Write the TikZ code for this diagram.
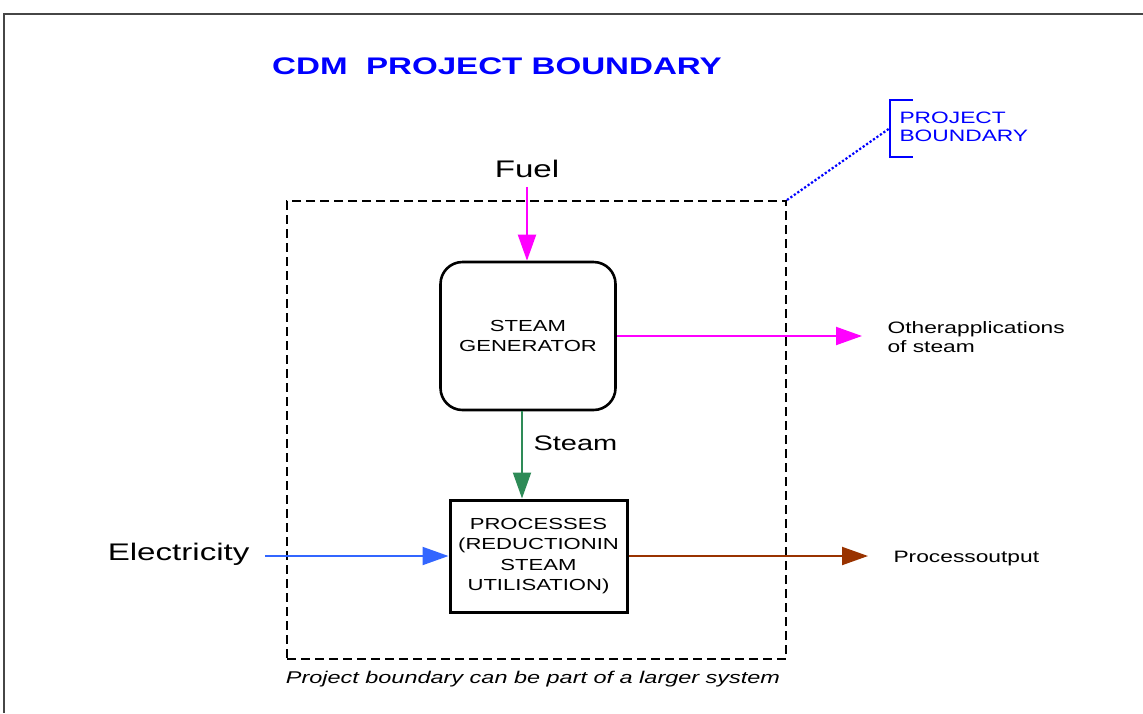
\documentclass[tikz,border=0pt]{standalone}
\usepackage{fontspec}
\setmainfont{Liberation Sans}[FakeStretch=1.38]
\usetikzlibrary{arrows.meta}

\definecolor{titleblue}{RGB}{0,0,255}
\definecolor{fuelmagenta}{RGB}{255,0,255}
\definecolor{steamgreen}{RGB}{46,139,87}
\definecolor{elecblue}{RGB}{51,102,255}
\definecolor{outbrown}{RGB}{153,51,0}
\definecolor{framegray}{RGB}{70,70,70}

\begin{document}
\begin{tikzpicture}[x=1pt,y=-1pt,>={Triangle[length=26pt,width=18pt]},
	box/.style={draw,line width=2.6pt,minimum width=175pt,minimum height=148pt,align=center,font=\fontsize{16}{20.5}\selectfont},
	big/.style={font=\fontsize{24}{28}\selectfont},
	lbl/.style={align=left,font=\fontsize{16.5}{18.5}\selectfont},
	flow/.style={->,line width=2pt}]
	\useasboundingbox (0,0) rectangle (1143,713);
	\draw[line width=2pt,framegray] (1143,14) -| (4,713);

	\draw (497,74) node (title) [anchor=base,text=titleblue,font=\fontsize{24}{28}\selectfont\bfseries] {CDM\ \ PROJECT BOUNDARY};

	\draw (536.5,430) node (bound) [draw,line width=2pt,dash pattern=on 9pt off 5pt,minimum width=499pt,minimum height=458pt] {};
	\draw (533,683) node (caption) [anchor=base,font=\fontsize{17}{19}\selectfont\itshape] {Project boundary can be part of a larger system};

	\draw (528,336) node (gen) [box,rounded corners=22pt] {STEAM\\GENERATOR};
	\draw (538.5,556) node (proc) [box,line width=3pt,minimum width=177pt,minimum height=112pt] {PROCESSES\\(REDUCTIONIN\\STEAM\\UTILISATION)};

	\draw (527,177) node (fuel) [anchor=base,big] {Fuel};
	\draw (253,560) node (elec) [anchor=base east,big] {Electricity};
	\draw (530,450) node (steamlbl) [anchor=base west,font=\fontsize{21}{24}\selectfont] {Steam};
	\draw (884,337) node (other) [anchor=west,lbl] {Otherapplications\\of steam};
	\draw (890,562) node (output) [anchor=base west,lbl] {Processoutput};
	\draw (896,127) node (blabel) [anchor=west,lbl,text=titleblue] {PROJECT\\BOUNDARY};

	\draw[flow,fuelmagenta,shorten <=6pt] (fuel.south) -- (fuel.south |- gen.north);
	\draw[flow,fuelmagenta] (gen.east) -- ([xshift=-22pt]gen.east -| other.west);
	\draw[flow,steamgreen] ([xshift=-6pt]gen.south) -- ([xshift=-6pt]gen.south |- proc.north);
	\draw[flow,elecblue] ([xshift=12pt]elec.east |- proc.west) -- (proc.west);
	\draw[flow,outbrown] (proc.east) -- ([xshift=-22pt]proc.east -| output.west);

	% boundary callout
	\coordinate (bmid) at (890,128);
	\draw[titleblue,line width=2.2pt,dotted] (bound.north east) -- (bmid);
	\draw[titleblue,line width=2pt] (913,100) -| (890,157) -- (913,157);
\end{tikzpicture}
\end{document}
